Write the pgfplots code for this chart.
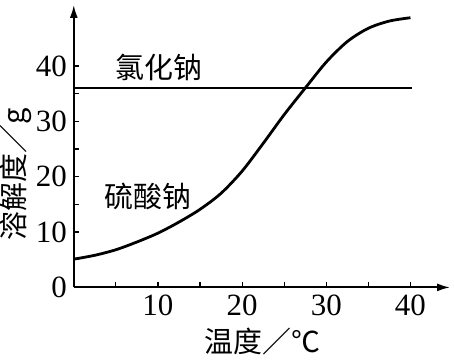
\documentclass[border=0pt]{standalone}
\usepackage{fontspec}
\setmainfont{Liberation Serif}
\newfontfamily\cjk{Noto Sans CJK SC}
\usepackage{pgfplots}
\pgfplotsset{compat=1.18}
\usetikzlibrary{arrows.meta}
\begin{document}
\begin{tikzpicture}
\begin{axis}[
  scale only axis,
  width=188.5pt, height=141.5pt,
  xmin=0, xmax=44.7, ymin=0, ymax=51,
  axis lines=left,
  axis line style={line width=0.9pt,-{Latex[length=6.5pt,width=4pt]}},
  tick align=inside,
  major tick length=2.5pt,
  tick style={line width=0.6pt,black},
  xtick={5,10,...,40}, xticklabels={,10,,20,,30,,40},
  ytick={0,5,...,40}, yticklabels={0,,10,,20,,30,,40},
  /pgf/number format/assume math mode=true,
  tick label style={font=\fontsize{15.5}{17}\selectfont},
  xlabel={\cjk 温度／℃},
  ylabel={\cjk 溶解度／g},
  label style={font=\fontsize{14.5}{16}\selectfont,inner sep=0pt},
  xlabel style={at={(axis description cs:0.501,0)},anchor=center,yshift=-27pt},
  ylabel style={at={(axis description cs:-0.154,0.40)},anchor=center},
  clip=false,
]
\addplot[black,line width=1.4pt] coordinates {(0,36) (40.2,36)};
\addplot[black,line width=1.4pt,smooth] coordinates {
(0,5.1) (2.5,5.8) (5,6.8) (7.5,8.2) (10,9.8) (12.5,11.8) (15,14.1) (17.5,17.0)
(20,21.0) (22.5,26.0) (25,31.2) (27.5,36.0) (30,40.7) (32.5,44.4) (35,46.8)
(37.5,48.1) (40,48.7)};
\node[font=\cjk\fontsize{14.5}{16}\selectfont] at (axis cs:10.1,39.8) {氯化钠};
\node[font=\cjk\fontsize{14.5}{16}\selectfont] at (axis cs:8.8,16.4) {硫酸钠};
\end{axis}
\path (-36.5pt,-36pt) rectangle (190.5pt,144pt);
\end{tikzpicture}
\end{document}
